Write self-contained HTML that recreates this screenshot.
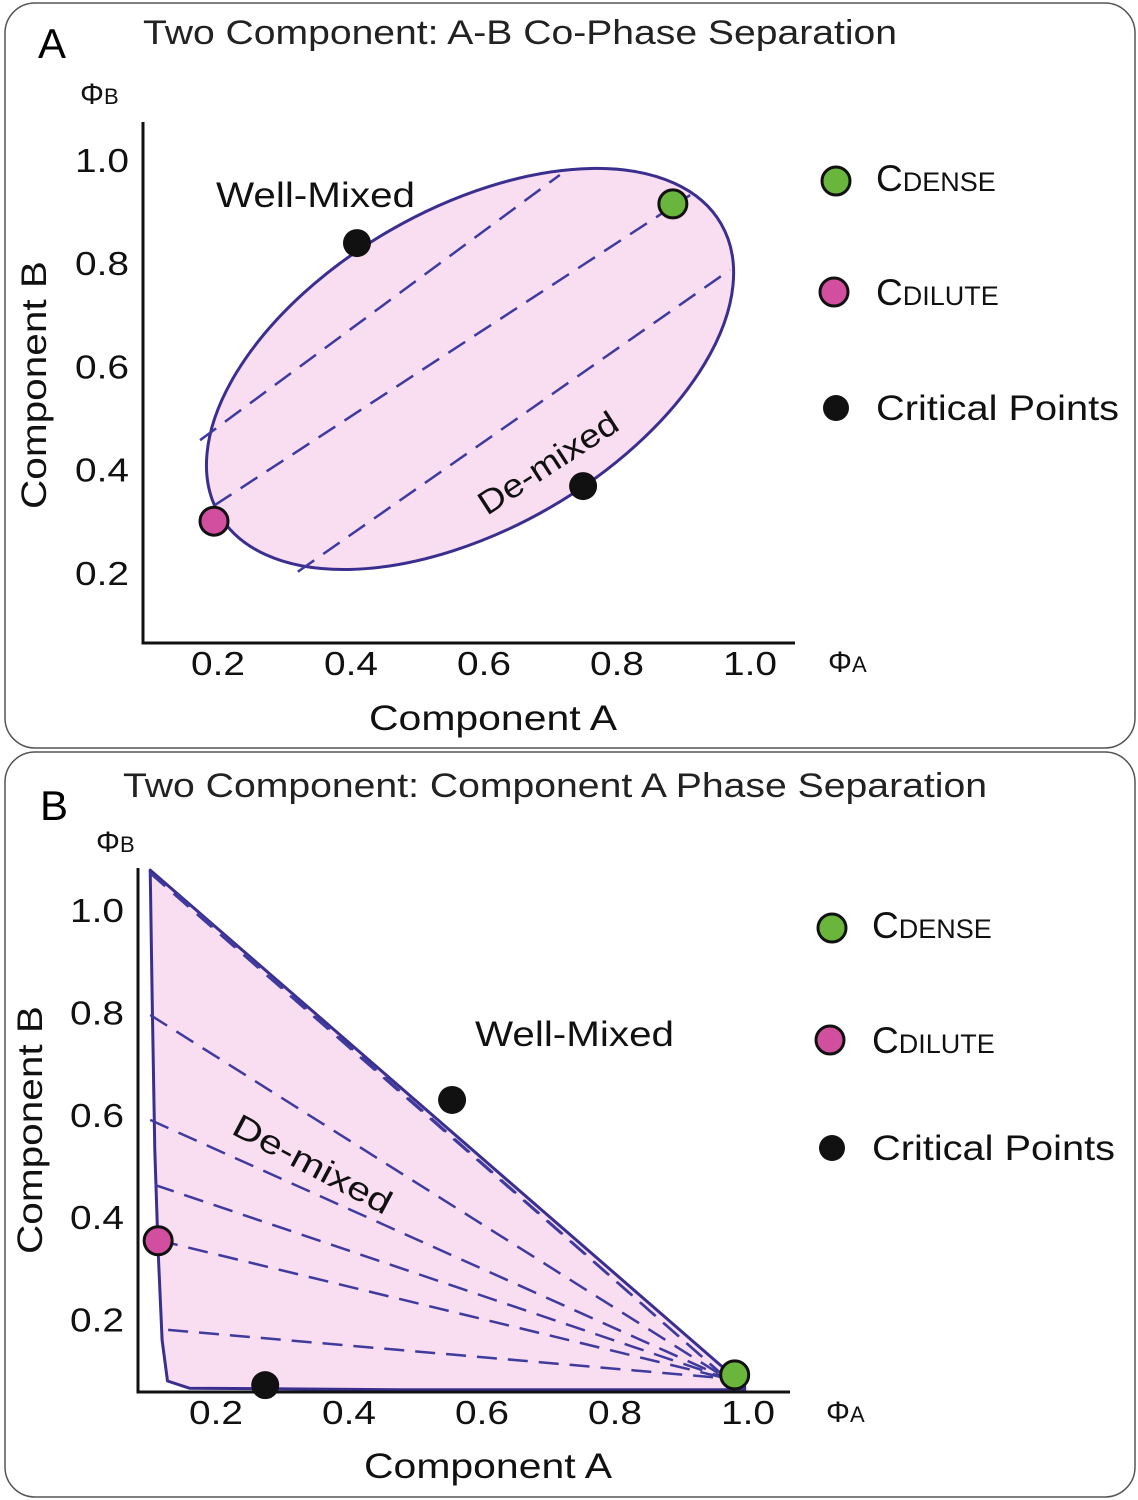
<!DOCTYPE html>
<html><head><meta charset="utf-8"><style>
html,body{margin:0;padding:0;background:#fff;}
svg{display:block;font-family:"Liberation Sans",sans-serif;}
</style></head><body>
<svg id="fig" width="1138" height="1500" viewBox="0 0 1138 1500" xmlns="http://www.w3.org/2000/svg">
<rect x="5" y="3" width="1130" height="745" rx="30" fill="#fff" stroke="#555" stroke-width="1.5"/>
<rect x="5" y="752" width="1130" height="745" rx="30" fill="#fff" stroke="#555" stroke-width="1.5"/>
<text x="38" y="58" font-size="42">A</text>
<text x="143" y="44" font-size="34" fill="#222" textLength="754" lengthAdjust="spacingAndGlyphs">Two Component: A-B Co-Phase Separation</text>
<text x="40" y="820" font-size="42">B</text>
<text x="123" y="797" font-size="34" fill="#222" textLength="864" lengthAdjust="spacingAndGlyphs">Two Component: Component A Phase Separation</text>
<g id="pa"></g>
<g id="pb"></g>
</svg>
<script>
const NS="http://www.w3.org/2000/svg";
const ticks=[0.2,0.4,0.6,0.8,1.0];
const tickLabels=["0.2","0.4","0.6","0.8","1.0"];
// Panel A data
const aEllipseCenter=[0.579,0.595];
const aGreen=[0.884,0.915];
const aPink=[0.194,0.300];
const aCritical=[[0.409,0.839],[0.749,0.368]];
const aTieLines=[[[0.173,0.457],[0.714,0.971]],[[0.195,0.331],[0.910,0.932]],[[0.320,0.202],[0.970,0.787]]];
// Panel B data
const bBoundary=[[0.101,1.078],[0.104,0.824],[0.108,0.531],[0.113,0.336],[0.119,0.160],[0.127,0.080],[0.160,0.066],[0.477,0.063],[0.995,0.063],[0.995,0.070],[0.101,1.078]];
const bGreen=[0.980,0.092];
const bPink=[0.113,0.354];
const bCritical=[[0.555,0.629],[0.274,0.072]];
const bTieStarts=[[0.101,1.072],[0.139,1.033],[0.101,0.795],[0.101,0.590],[0.108,0.463],[0.113,0.355],[0.128,0.180]];
const bTieEnd=[0.968,0.085];

function el(t,a,p){const e=document.createElementNS(NS,t);for(const k in a)e.setAttribute(k,a[k]);p.appendChild(e);return e;}
function axes(g,sx,sy,x0,yTop,yBot,xEnd,pref){
  let e=el('path',{d:`M${x0} ${yTop}V${yBot}H${xEnd}`,fill:'none',stroke:'#111','stroke-width':3},g);
  
  
  ticks.forEach((v,i)=>{
    let t=el('text',{x:sx(v),y:yBot+32,'font-size':33,'text-anchor':'middle',fill:'#111',textLength:54,lengthAdjust:'spacingAndGlyphs'},g);t.textContent=tickLabels[i];
    
    
    let u=el('text',{x:x0-14,y:sy(v)+12,'font-size':33,'text-anchor':'end',fill:'#111',textLength:54,lengthAdjust:'spacingAndGlyphs'},g);u.textContent=tickLabels[i];
    
    
  });
}
function dot(g,p,sx,sy,fill,name){
  const c=el('circle',{cx:sx(p[0]),cy:sy(p[1]),r:14,fill:fill,stroke:'#111','stroke-width':3},g);
  
  
}
function txt(g,x,y,s,size,name,extra){const t=el('text',Object.assign({x:x,y:y,'font-size':size,fill:'#111'},extra||{}),g);t.innerHTML=s;
  
  return t;}
function legend(g,x,ys,pref){
  dot(g,[0,0],()=>x,()=>ys[0],'#6ab63c',pref+'-legend-dense-marker');
  dot(g,[0,0],()=>x-2,()=>ys[1],'#d24fa0',pref+'-legend-dilute-marker');
  const b=el('circle',{cx:x,cy:ys[2],r:13,fill:'#111'},g);
  
  
  txt(g,x+40,ys[0]+10,'C<tspan font-size="27">DENSE</tspan>',37,pref+'-legend-dense');
  txt(g,x+40,ys[1]+13,'C<tspan font-size="27">DILUTE</tspan>',37,pref+'-legend-dilute');
  txt(g,x+40,ys[2]+12,'Critical Points',35,pref+'-legend-critical',{textLength:243,lengthAdjust:'spacingAndGlyphs'});
}
// Panel A
(function(){
  const g=document.getElementById('pa');
  const sx=v=>218+665*(v-0.2), sy=v=>160+516*(1-v);
  const e=el('ellipse',{cx:sx(aEllipseCenter[0]),cy:sy(aEllipseCenter[1]),rx:290,ry:160,transform:`rotate(-30 ${sx(aEllipseCenter[0])} ${sy(aEllipseCenter[1])})`,fill:'#f8def0',stroke:'#3a2f8f','stroke-width':3},g);
  
  
  aTieLines.forEach(l=>{const t=el('line',{x1:sx(l[0][0]),y1:sy(l[0][1]),x2:sx(l[1][0]),y2:sy(l[1][1]),stroke:'#3f3a9e','stroke-width':2.5,'stroke-dasharray':'20 11'},g);
    
    });
  axes(g,sx,sy,143,122,643,795,'panel-a');
  aCritical.forEach(p=>{const c=el('circle',{cx:sx(p[0]),cy:sy(p[1]),r:14,fill:'#111'},g);
    
    });
  dot(g,aGreen,sx,sy,'#6ab63c','panel-a-dense-point');
  dot(g,aPink,sx,sy,'#d24fa0','panel-a-dilute-point');
  txt(g,216,207,'Well-Mixed',35,'panel-a-well-mixed-label',{textLength:199,lengthAdjust:'spacingAndGlyphs'});
  txt(g,0,0,'De-mixed',33,'panel-a-demixed-label',{transform:'translate(487,516) rotate(-33)',textLength:160,lengthAdjust:'spacingAndGlyphs'});
  txt(g,80,104,'Φ<tspan font-size="22">B</tspan>',30,'panel-a-phi-b-label');
  txt(g,828,672,'Φ<tspan font-size="22">A</tspan>',30,'panel-a-phi-a-label');
  txt(g,493,730,'Component A',35,'panel-a-x-axis-title',{'text-anchor':'middle',textLength:248,lengthAdjust:'spacingAndGlyphs'});
  txt(g,0,0,'Component B',35,'panel-a-y-axis-title',{'text-anchor':'middle',transform:'translate(46,385) rotate(-90)',textLength:248,lengthAdjust:'spacingAndGlyphs'});
  legend(g,836,[181,292,408],'panel-a');
})();
// Panel B
(function(){
  const g=document.getElementById('pb');
  const sx=v=>216+665*(v-0.2), sy=v=>910+512*(1-v);
  const d=bBoundary.map((p,i)=>(i?'L':'M')+sx(p[0]).toFixed(1)+' '+sy(p[1]).toFixed(1)).join('')+'Z';
  const p=el('path',{d:d,fill:'#f8def0',stroke:'#3a2f8f','stroke-width':3,'stroke-linejoin':'round'},g);
  
  
  bTieStarts.forEach(s=>{const t=el('line',{x1:sx(s[0]),y1:sy(s[1]),x2:sx(bTieEnd[0]),y2:sy(bTieEnd[1]),stroke:'#3f3a9e','stroke-width':2.5,'stroke-dasharray':'20 11'},g);
    
    });
  axes(g,sx,sy,138,868,1392,790,'panel-b');
  bCritical.forEach(q=>{const c=el('circle',{cx:sx(q[0]),cy:sy(q[1]),r:14,fill:'#111'},g);
    
    });
  dot(g,bGreen,sx,sy,'#6ab63c','panel-b-dense-point');
  dot(g,bPink,sx,sy,'#d24fa0','panel-b-dilute-point');
  txt(g,475,1046,'Well-Mixed',35,'panel-b-well-mixed-label',{textLength:199,lengthAdjust:'spacingAndGlyphs'});
  txt(g,0,0,'De-mixed',33,'panel-b-demixed-label',{transform:'translate(230,1133) rotate(28)',textLength:175,lengthAdjust:'spacingAndGlyphs'});
  txt(g,96,852,'Φ<tspan font-size="22">B</tspan>',30,'panel-b-phi-b-label');
  txt(g,826,1422,'Φ<tspan font-size="22">A</tspan>',30,'panel-b-phi-a-label');
  txt(g,488,1478,'Component A',35,'panel-b-x-axis-title',{'text-anchor':'middle',textLength:248,lengthAdjust:'spacingAndGlyphs'});
  txt(g,0,0,'Component B',35,'panel-b-y-axis-title',{'text-anchor':'middle',transform:'translate(42,1130) rotate(-90)',textLength:248,lengthAdjust:'spacingAndGlyphs'});
  legend(g,832,[928,1040,1148],'panel-b');
})();
</script>
</body></html>
